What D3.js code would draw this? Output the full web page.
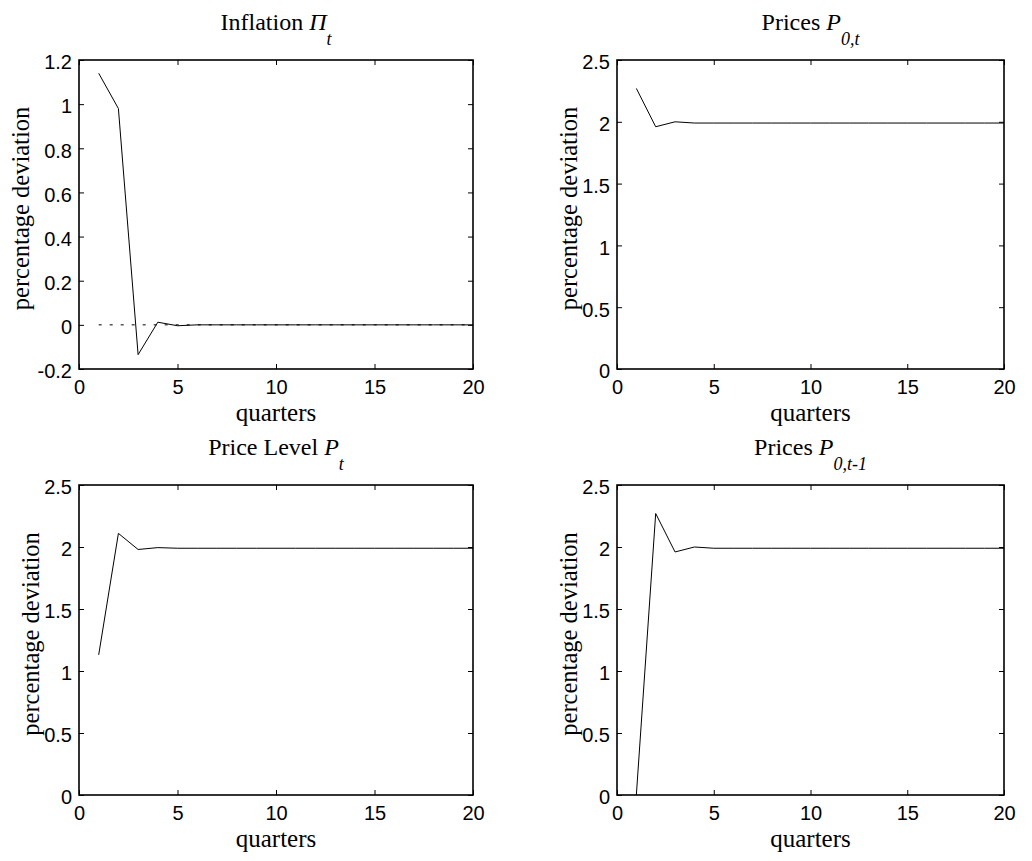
<!DOCTYPE html>
<html><head><meta charset="utf-8">
<script src="https://cdn.jsdelivr.net/npm/d3@7"></script>
<style>body{margin:0;background:#fff}svg{display:block}</style>
</head><body>
<svg id="c" width="1032" height="861"></svg>
<script>
const quarters = d3.range(1, 21);
const inflation = [1.14, 0.98, -0.135, 0.012, -0.004, 0, 0, 0, 0, 0, 0, 0, 0, 0, 0, 0, 0, 0, 0, 0];
const pricesP0t = [2.27, 1.96, 2.0, 1.99, 1.99, 1.99, 1.99, 1.99, 1.99, 1.99, 1.99, 1.99, 1.99, 1.99, 1.99, 1.99, 1.99, 1.99, 1.99, 1.99];
const priceLevel = [1.13, 2.11, 1.98, 1.995, 1.99, 1.99, 1.99, 1.99, 1.99, 1.99, 1.99, 1.99, 1.99, 1.99, 1.99, 1.99, 1.99, 1.99, 1.99, 1.99];
const pricesP0t1 = [0, 2.27, 1.96, 2.0, 1.99, 1.99, 1.99, 1.99, 1.99, 1.99, 1.99, 1.99, 1.99, 1.99, 1.99, 1.99, 1.99, 1.99, 1.99, 1.99];
const xTicks = [0, 5, 10, 15, 20];
const yTicksInfl = [-0.2, 0, 0.2, 0.4, 0.6, 0.8, 1, 1.2];
const yTicksPrice = [0, 0.5, 1, 1.5, 2, 2.5];

const panels = [
  {title:"Inflation ", sym:"Π", sub:"t", data:inflation, yDom:[-0.2,1.2], yTicks:yTicksInfl, zero:true, x0:79, x1:473, y0:60, y1:369, ylOff:50},
  {title:"Prices ", sym:"P", sub:"0,t", data:pricesP0t, yDom:[0,2.5], yTicks:yTicksPrice, zero:false, x0:617, x1:1004, y0:60, y1:369, ylOff:40},
  {title:"Price Level ", sym:"P", sub:"t", data:priceLevel, yDom:[0,2.5], yTicks:yTicksPrice, zero:false, x0:79, x1:473, y0:485, y1:795, ylOff:40},
  {title:"Prices ", sym:"P", sub:"0,t-1", data:pricesP0t1, yDom:[0,2.5], yTicks:yTicksPrice, zero:false, x0:617, x1:1004, y0:485, y1:795, ylOff:40}
];

const svg = d3.select("#c");
const serif = "'Liberation Serif','Times New Roman',serif";
const sans = "'Liberation Sans',Arial,Helvetica,sans-serif";
const fmt = d => String(+(+d).toFixed(1));

panels.forEach(p => {
  const x = d3.scaleLinear().domain([0,20]).range([p.x0,p.x1]);
  const y = d3.scaleLinear().domain(p.yDom).range([p.y1,p.y0]);
  const g = svg.append("g");

  if (p.zero) {
    g.append("line").attr("x1",x(1)).attr("x2",x(20)).attr("y1",y(0)).attr("y2",y(0))
      .attr("stroke","#000").attr("stroke-width",1).attr("stroke-dasharray","3,8");
  }
  g.append("path").datum(p.data)
    .attr("fill","none").attr("stroke","#000").attr("stroke-width",1)
    .attr("d", d3.line().x((d,i)=>x(quarters[i])).y(d=>y(d)));

  const styleAxis = sel => {
    sel.select(".domain").remove();
    sel.selectAll(".tick line").attr("stroke","#000").attr("stroke-width",1);
    sel.selectAll("text").attr("font-family",sans).attr("font-size",20).attr("fill","#000");
  };
  g.append("g").attr("transform",`translate(0,${p.y1})`)
    .call(d3.axisBottom(x).tickValues(xTicks).tickFormat(fmt).tickSizeInner(-5).tickSizeOuter(0).tickPadding(11))
    .call(styleAxis);
  g.append("g").attr("transform",`translate(0,${p.y0})`)
    .call(d3.axisTop(x).tickValues(xTicks).tickFormat("").tickSizeInner(-5).tickSizeOuter(0))
    .call(styleAxis);
  const yl = g.append("g").attr("transform",`translate(${p.x0},0)`)
    .call(d3.axisLeft(y).tickValues(p.yTicks).tickFormat(fmt).tickSizeInner(-5).tickSizeOuter(0).tickPadding(7))
    .call(styleAxis);
  yl.selectAll(".tick text").attr("dy","0.44em");
  g.append("g").attr("transform",`translate(${p.x1},0)`)
    .call(d3.axisRight(y).tickValues(p.yTicks).tickFormat("").tickSizeInner(-5).tickSizeOuter(0))
    .call(styleAxis);

  g.append("rect").attr("x",p.x0).attr("y",p.y0).attr("width",p.x1-p.x0).attr("height",p.y1-p.y0)
    .attr("fill","none").attr("stroke","#000").attr("stroke-width",1.6);

  const t = g.append("text").attr("x",(p.x0+p.x1)/2).attr("y",p.y0-30)
    .attr("text-anchor","middle").attr("font-family",serif).attr("font-size",24).attr("fill","#000");
  t.append("tspan").text(p.title);
  t.append("tspan").attr("font-style","italic").text(p.sym);
  t.append("tspan").attr("font-style","italic").attr("font-size",18).attr("dy",15).text(p.sub);

  g.append("text").attr("x",(p.x0+p.x1)/2).attr("y",p.y1+52).attr("text-anchor","middle")
    .attr("font-family",serif).attr("font-size",25).attr("fill","#000").text("quarters");
  g.append("text").attr("transform",`translate(${p.x0-p.ylOff},${(p.y0+p.y1)/2-6}) rotate(-90)`)
    .attr("text-anchor","middle").attr("font-family",serif).attr("font-size",24.5).attr("fill","#000")
    .text("percentage deviation");
});
</script>
</body></html>
